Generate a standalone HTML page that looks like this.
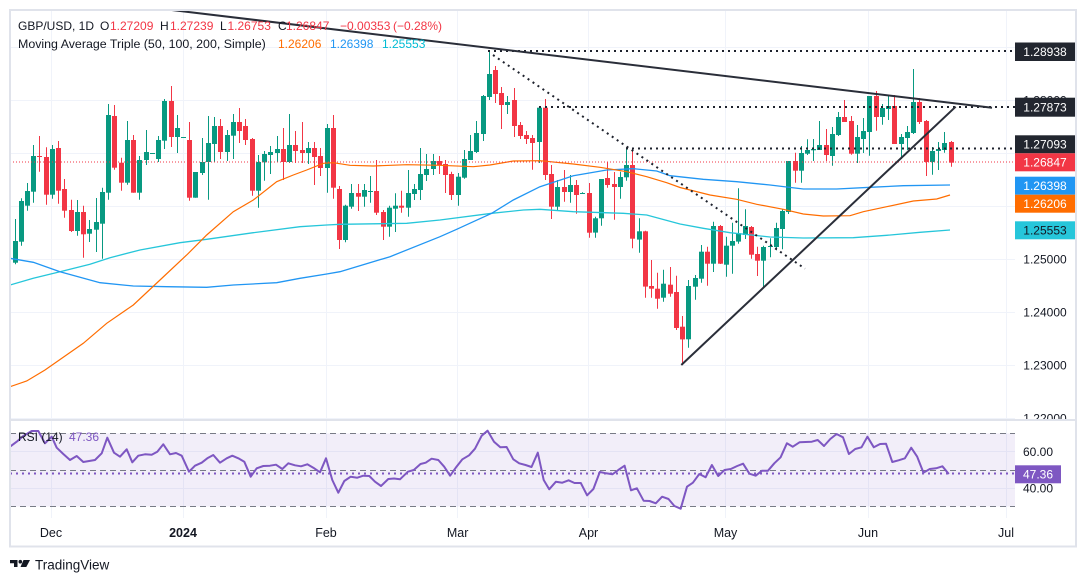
<!DOCTYPE html>
<html><head><meta charset="utf-8"><style>
html,body{margin:0;padding:0;background:#fff;}
svg{display:block;font-family:"Liberation Sans",Arial,sans-serif;}
</style></head><body>
<svg id="s" width="1087" height="584" viewBox="0 0 1087 584" xmlns="http://www.w3.org/2000/svg">
<defs>
<clipPath id="mainclip"><rect x="10" y="11" width="1066" height="408"/></clipPath>
</defs>
<rect width="1087" height="584" fill="#fff"/>
<!-- grid -->
<g stroke="#f0f3fa" stroke-width="1">
<line x1="10" y1="47.5" x2="1015" y2="47.5"/>
<line x1="10" y1="100.5" x2="1015" y2="100.5"/>
<line x1="10" y1="153.5" x2="1015" y2="153.5"/>
<line x1="10" y1="206.5" x2="1015" y2="206.5"/>
<line x1="10" y1="259.5" x2="1015" y2="259.5"/>
<line x1="10" y1="312.5" x2="1015" y2="312.5"/>
<line x1="10" y1="365.5" x2="1015" y2="365.5"/>
<line x1="10" y1="418.5" x2="1015" y2="418.5"/>
<line x1="10" y1="451.5" x2="1015" y2="451.5"/>
<line x1="10" y1="488.5" x2="1015" y2="488.5"/>
<line x1="51.5" y1="11" x2="51.5" y2="518"/>
<line x1="183.5" y1="11" x2="183.5" y2="518"/>
<line x1="326.5" y1="11" x2="326.5" y2="518"/>
<line x1="457.5" y1="11" x2="457.5" y2="518"/>
<line x1="588.5" y1="11" x2="588.5" y2="518"/>
<line x1="725.5" y1="11" x2="725.5" y2="518"/>
<line x1="868.5" y1="11" x2="868.5" y2="518"/>
<line x1="1006.5" y1="11" x2="1006.5" y2="518"/>
</g>
<!-- RSI band -->
<rect x="10" y="433.5" width="1005" height="73" fill="rgba(126,87,194,0.1)"/>
<g stroke="#787b86" stroke-width="1" stroke-dasharray="6 4">
<line x1="10" y1="433.5" x2="1015" y2="433.5"/>
<line x1="10" y1="470.5" x2="1015" y2="470.5"/>
<line x1="10" y1="506.5" x2="1015" y2="506.5"/>
</g>
<line x1="10" y1="473.5" x2="1015" y2="473.5" stroke="#7e57c2" stroke-width="2" stroke-dasharray="2 4"/>

<g clip-path="url(#mainclip)">
<g id="candles"></g>
<polyline fill="none" stroke="#26c6da" stroke-width="1.3" points="10,285 33.3,278.3 60,271.7 90,264.3 110,257.7 140,250 180,242.7 206.7,239.3 253.3,232.7 300,226.7 326.7,225 340,224.3 406.7,223.3 440,220 491.7,213.3 523.3,210 540,209.3 573.3,211.7 623.3,213.3 646.7,215 680,224 703.3,228.3 730,232.7 770,237 803.3,238 853.3,237.7 886.7,235.3 920,232.3 950,230"/>
<polyline fill="none" stroke="#2196f3" stroke-width="1.3" points="10,258.3 33.3,262.3 60,271.7 100,282.7 133.3,286 166.7,286.7 206.7,287.3 233.3,285 276.7,282.7 300,278.3 326.7,274 340,271.7 390,256.7 440,236.7 456.7,229.3 473.3,221.7 491.7,213.3 513.3,200 540,186.7 573.3,175.7 606.7,170 633.3,168.7 656.7,171 670,175.7 703.3,179.3 736.7,181.7 770,185 803.3,189 836.7,189 870,187.3 903.3,185.7 950,185"/>
<polyline fill="none" stroke="#ff6d00" stroke-width="1.2" points="10,386.7 26.7,381 45,370 83.3,343.3 106.7,323.3 133.3,305 160,280 186.7,255 206.7,235 233.3,211.7 253.3,200 276.7,181.7 293.3,175 306.7,170 323.3,163.3 333.3,162.7 350,165.3 373.3,166 406.7,164.7 440,165.3 473.3,166.7 490,165 513.3,161 540,160.7 573.3,164 600,167.3 626.7,171.7 646.7,176.7 666.7,182.7 680,187.5 690,190 710,195 736.7,199.3 756.7,204.3 783.3,209.3 803.3,214 823.3,216 850,215.7 863.3,211.7 886.7,206.7 913.3,201 936.7,199 950,195"/>
<!-- red last price dotted -->
<line x1="10" y1="162" x2="1015" y2="162" stroke="#f23645" stroke-width="1" stroke-dasharray="1 2"/>
<!-- drawings -->
<g stroke="#1e222d" stroke-width="2" stroke-dasharray="2 4" fill="none">
<line x1="488" y1="51" x2="1015" y2="51"/>
<line x1="539" y1="107" x2="1015" y2="107"/>
<line x1="626" y1="148.5" x2="1015" y2="148.5"/>
<line x1="493" y1="55" x2="805" y2="268.7"/>
</g>
<g stroke="#2a2e39" stroke-width="2" fill="none">
<line x1="171.7" y1="10" x2="992" y2="107.8"/>
<line x1="681.3" y1="365" x2="955.7" y2="106.7"/>
</g>
</g>

<!-- RSI line -->
<polyline id="rsi" fill="none" stroke="#7e57c2" stroke-width="2" stroke-linejoin="round" points=""/>

<!-- frame -->
<rect x="10" y="10" width="1066" height="536.5" fill="none" stroke="#e0e3eb" stroke-width="2"/>
<line x1="10" y1="420" x2="1076" y2="420" stroke="#e0e3eb" stroke-width="2"/>

<!-- legend -->
<g font-size="12">
<text x="18" y="30" fill="#131722">GBP/USD, 1D</text>
<text x="100" y="30" fill="#131722">O</text><text x="110" y="30" fill="#f23645">1.27209</text>
<text x="160" y="30" fill="#131722">H</text><text x="170" y="30" fill="#f23645">1.27239</text>
<text x="220" y="30" fill="#131722">L</text><text x="227.5" y="30" fill="#f23645">1.26753</text>
<text x="278" y="30" fill="#131722">C</text><text x="286" y="30" fill="#f23645">1.26847</text>
<text x="340" y="30" fill="#f23645">−0.00353</text><text x="393" y="30" fill="#f23645">(−0.28%)</text>
<text x="18" y="48" fill="#131722" font-size="12.4">Moving Average Triple (50, 100, 200, Simple)</text>
<text x="278" y="48" fill="#ff6d00">1.26206</text>
<text x="330" y="48" fill="#2196f3">1.26398</text>
<text x="382" y="48" fill="#00bcd4">1.25553</text>
<text x="18" y="441" fill="#131722">RSI (14)</text>
<text x="69" y="441" fill="#7e57c2">47.36</text>
</g>

<!-- price axis -->
<g font-size="12" text-anchor="middle" fill="#131722">
<g clip-path="url(#mainclip)">
<text x="1045" y="104.6">1.28000</text>
<text x="1045" y="263.6">1.25000</text>
<text x="1045" y="316.6">1.24000</text>
<text x="1045" y="369.6">1.23000</text>
<text x="1045" y="422.6">1.22000</text>
</g>
<rect x="1015" y="42.5" width="60" height="18.5" fill="#22262f"/>
<text x="1045" y="56" fill="#fff">1.28938</text>
<rect x="1015" y="97.7" width="60" height="19" fill="#22262f"/>
<text x="1045" y="111.5" fill="#fff">1.27873</text>
<rect x="1015" y="135.3" width="60" height="18" fill="#22262f"/>
<text x="1045" y="148.6" fill="#fff">1.27093</text>
<rect x="1015" y="153.3" width="60" height="18" fill="#f23645"/>
<text x="1045" y="166.6" fill="#fff">1.26847</text>
<rect x="1015" y="176.7" width="60" height="18" fill="#2196f3"/>
<text x="1045" y="190" fill="#fff">1.26398</text>
<rect x="1015" y="194.7" width="60" height="18" fill="#ff6d00"/>
<text x="1045" y="208" fill="#fff">1.26206</text>
<rect x="1015" y="221.3" width="60" height="18" fill="#26c6da"/>
<text x="1045" y="234.6" fill="#131722">1.25553</text>
</g>
<g font-size="12" fill="#131722">
<text x="1023" y="455.8">60.00</text>
<text x="1023" y="492.3">40.00</text>
<rect x="1015" y="465.3" width="46" height="18" fill="#7e57c2"/>
<text x="1038" y="478.6" fill="#fff" text-anchor="middle">47.36</text>
</g>

<!-- time axis -->
<g font-size="12.5" fill="#131722" text-anchor="middle">
<text x="51" y="537">Dec</text>
<text x="183" y="537" font-weight="bold">2024</text>
<text x="326" y="537">Feb</text>
<text x="457.6" y="537">Mar</text>
<text x="588.5" y="537">Apr</text>
<text x="725.5" y="537">May</text>
<text x="868" y="537">Jun</text>
<text x="1006" y="537">Jul</text>
</g>

<!-- logo -->
<g fill="#131722">
<path d="M10 560 H17.5 V567 H14 V563.3 H10 Z"/>
<circle cx="20.3" cy="561.7" r="1.8"/>
<polygon points="23.5,560 30,560 26.3,567 20.5,567"/>
<text x="35" y="569.5" font-size="13.5">TradingView</text>
</g>
</svg>
<script>
(function(){
var d5=[
[1,543,608,477,613],[1,423,545,415,557],[1,393,437,369,452],[1,288,395,255,428],[0,288,291,228,335],
[0,291,404,262,434],[1,267,404,255,416],[0,264,392,243,431],[0,387,452,357,473],[0,450,513,419,516],
[1,456,513,420,527],[0,456,523,437,593],[1,507,521,480,546],[1,486,509,414,576],[1,396,491,383,596],
[1,165,398,132,419],[0,168,323,135,329],[0,308,368,293,392],[1,240,368,183,374],[0,240,398,225,398],
[1,300,398,288,419],[1,276,300,210,315],[1,279,281,279,282],[1,240,297,228,306],[1,123,242,117,267],
[0,123,231,78,261],[1,204,231,165,279],[1,231,233,231,233],[0,240,413,186,422],[1,336,413,336,413],
[1,306,339,234,345],[1,249,306,168,419],[1,198,252,171,306],[0,198,276,177,297],[1,225,276,210,303],
[1,186,227,162,297],[0,186,213,144,249],[0,198,240,177,255],[0,237,392,234,407],[1,306,392,285,443],
[1,282,307,273,362],[1,276,285,258,342],[1,267,279,228,306],[0,267,306,204,360],[1,255,306,162,309],
[0,255,273,213,309],[0,270,279,186,309],[1,264,279,246,312],[0,264,291,246,375],[0,288,324,264,348],
[1,204,324,192,398],[0,204,383,165,416],[0,387,540,378,567]];
var d7=[
[1,497,600,494,607],[1,459,500,432,506],[0,459,470,432,513],[1,450,470,432,500],[1,453,455,408,488],
[0,453,518,360,525],[0,516,560,510,600],[1,503,560,497,590],[1,497,506,460,576],[0,497,503,452,518],
[1,459,503,390,530],[1,447,462,432,480],[1,402,450,324,480],[1,387,405,342,423],[1,363,387,342,405],
[0,363,375,348,402],[0,372,405,360,459],[0,402,465,395,480],[1,410,465,399,497],[1,357,413,330,416],
[1,333,360,285,360],[1,279,336,243,339],[1,168,282,165,303],[1,102,171,33,180],[0,90,162,78,189],
[0,159,195,141,267],[1,186,195,168,222],[0,180,258,144,291],[0,255,288,246,297],[0,285,297,273,312],
[0,294,309,285,389],[1,203,306,198,369],[0,203,405,177,420],[0,402,500,375,537],[1,441,500,420,512],
[0,441,456,390,485],[1,435,456,405,488],[0,435,465,420,521],[1,459,461,457,462],[0,459,578,429,593],
[1,535,578,530,593],[1,417,535,417,557],[0,414,435,366,443],[0,432,441,396,539],[1,411,441,395,476],
[1,375,412,327,422],[0,375,596,330,625],[1,574,599,535,638],[0,574,740,572,773],[0,738,746,660,773],
[0,746,776,698,806],[1,731,773,689,785],[0,734,761,681,770],[0,756,864,707,870]];
var d8=[
[0,860,898,828,975],[1,738,898,720,923],[1,714,740,705,779],[1,635,716,615,728],[0,635,671,620,737],
[1,558,671,545,696],[0,558,671,555,672],[1,617,674,590,710],[1,603,617,548,701],[1,580,605,445,611],
[1,558,585,508,597],[0,561,644,558,656],[0,642,662,620,708],[1,621,662,617,744],[1,618,620,595,652],
[1,564,621,548,631],[1,513,567,508,628],[1,363,516,363,522],[0,363,392,338,428],[1,339,392,318,428],
[1,330,341,298,345],[1,327,331,297,363],[1,315,330,243,330],[0,315,345,267,363],[1,282,348,261,377],
[1,231,285,216,288],[0,231,246,180,246],[0,243,341,228,344],[1,291,341,255,369],[1,273,297,234,339],
[1,168,276,168,347],[0,168,231,153,272],[1,204,231,192,254],[1,198,207,168,240],[0,198,312,165,312],
[1,291,312,282,357],[1,276,294,258,330],[1,186,279,87,282],[0,186,246,174,252],[0,243,366,240,408],
[1,333,366,321,404],[1,327,333,306,390],[1,309,330,276,338],[0,306,368,303,380]];
function cs(data,off,start){
  var s='';
  for(var k=0;k<data.length;k++){
    var d=data[k],i=start+k,cx=Math.round(14.5+6.24*i);
    var c=d[0]?'#089981':'#f23645';
    var bt=off+d[1]/3,bb=off+d[2]/3,wt=off+d[3]/3,wb=off+d[4]/3;
    var w1=Math.min(wt,bt),w2=Math.max(wb,bb);
    s+='<line x1="'+(cx+0.5)+'" y1="'+w1.toFixed(1)+'" x2="'+(cx+0.5)+'" y2="'+w2.toFixed(1)+'" stroke="'+c+'" stroke-width="1"/>';
    s+='<rect x="'+(cx-2)+'" y="'+bt.toFixed(1)+'" width="5" height="'+Math.max(bb-bt,1).toFixed(1)+'" fill="'+c+'"/>';
  }
  return s;
}
var html=cs(d5,60,0)+cs(d7,40,53)+cs(d8,40,107);
document.getElementById('candles').innerHTML=html;
var rsi="10,446.7 16.7,441.7 23.3,436 31.7,431 38.3,431 45,443.3 51.7,436.7 56.7,447.7 63.3,454 70,460 76.7,456 83.3,462 95,460 101.7,453.3 107.3,437.7 114,452.7 120,456.7 126.7,449.3 132.3,462.3 138.3,455.7 145,454.3 151.7,454.7 157.3,451.7 163.3,444.3 170,454.3 176,453 181.7,455.7 189,471.7 195,465.7 201.7,462.7 207.3,458.3 213.3,455 220,462.7 226.7,458.3 232.3,455.7 238.3,458.3 244.3,461.7 250.7,476.7 256.7,468.3 263.3,466 270,465.7 276,464.7 282.3,469 288.3,463.3 295,465.3 301,466.3 307.3,464.3 313.3,467.7 320,472.3 326,458.3 332.3,480 338.3,492.7 344.3,481 350.7,476.7 357.3,477.7 363.3,475.7 369.3,476 375,481.7 381,486 388.3,479 394,478.5 400,479.3 407.9,471.7 413.8,470 420.5,464 425.7,462.7 431.6,458.7 438.3,460 444.2,466.7 450.1,475.7 456.5,466.7 462.4,459.3 469.1,455.3 475,448.7 481.7,435.7 487.6,430.7 494,441.7 500.3,447.3 506.6,447 513.3,459.3 519.2,463.3 525.5,465 531.5,467 537.8,452.7 543.7,480 549.2,489.3 555.9,481.7 562.3,482.7 568.6,480.3 574.5,483 580.8,483 587.1,495.3 593.4,489 599.8,472 606.1,473.3 612.4,474.3 618.3,470 624.6,465.7 631,490.3 636.9,488.3 643.6,500.7 649.5,501 655.8,503.3 662.1,496.7 668.5,499 674.4,506 680.7,508.7 687,486.7 692.9,482.7 699.3,474 705.6,477.3 711.9,465 718.2,476 724.5,470 730.8,469 737.2,466 743.1,463.7 749.4,473.7 755.7,475.7 762,470.7 768,470.7 774.3,463.3 780.6,457.3 786.9,443.3 792.8,446.7 799.5,442.3 805.4,442 811.8,441.7 817.7,440 824,446 830.3,439 836.6,434 843,437.3 848.9,454 855.2,449 861.5,447.3 867.4,436.7 873.8,447.3 880.1,444 886,443.7 892.3,462 898.6,460.3 904.9,458.3 911.2,447.7 917.2,456.7 923.5,472.7 929.8,469 936.1,468.3 942.4,466.3 948.8,474";
document.getElementById('rsi').setAttribute('points',rsi);
})();
</script>
</body></html>
